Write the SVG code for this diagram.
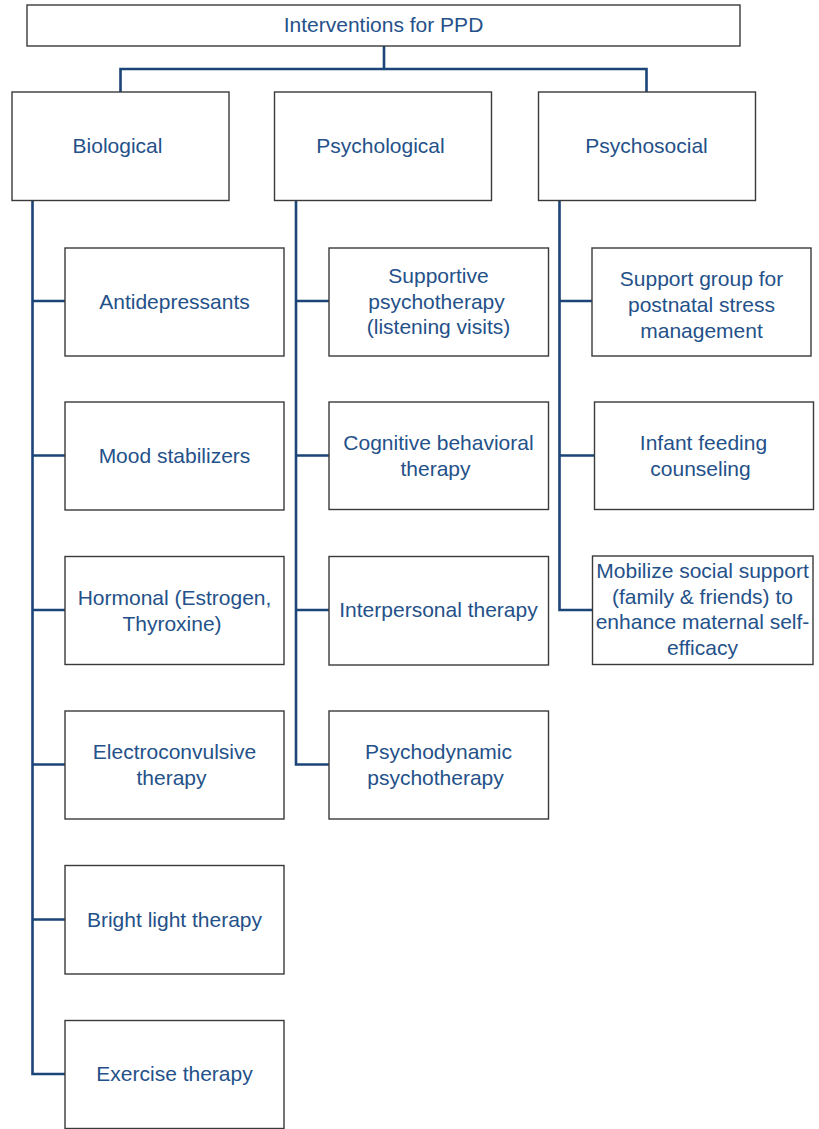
<svg xmlns="http://www.w3.org/2000/svg" width="819" height="1129" viewBox="0 0 819 1129">
  <style>
    .box { fill: #ffffff; stroke: #3a3a3a; stroke-width: 1.4; }
    .lbl { font-family: "Liberation Sans", Arial, sans-serif; font-size: 21px; fill: #245189; text-anchor: middle; }
    .link { fill: none; stroke: #1b4478; stroke-width: 2.6; stroke-linejoin: miter; }
  </style>
  <rect width="819" height="1129" fill="#ffffff"/>

  <!-- connectors -->
  <g id="connectors">
    <path class="link" d="M384 46 V69 M120.5 92 V69 H646.5 V92"/>
    <!-- Biological spine -->
    <path class="link" d="M32.5 200.5 V1074 H65 M32.5 301 H65 M32.5 455.5 H65 M32.5 610 H65 M32.5 764.5 H65 M32.5 919.5 H65"/>
    <!-- Psychological spine -->
    <path class="link" d="M296 200.5 V764.5 H329 M296 301 H329 M296 455.5 H329 M296 610 H329"/>
    <!-- Psychosocial spine -->
    <path class="link" d="M559.5 200.5 V610 H592.5 M559.5 301 H592 M559.5 455.5 H594.5"/>
  </g>

  <!-- root -->
  <g id="root">
    <rect class="box" x="27" y="5" width="713" height="41"/>
    <text class="lbl" x="383.5" y="32">Interventions for PPD</text>
  </g>

  <!-- categories -->
  <g id="biological">
    <rect class="box" x="12" y="92" width="217" height="108.5"/>
    <text class="lbl" x="117.5" y="153">Biological</text>
  </g>
  <g id="psychological">
    <rect class="box" x="274.5" y="92" width="217" height="108.5"/>
    <text class="lbl" x="380.5" y="153">Psychological</text>
  </g>
  <g id="psychosocial">
    <rect class="box" x="538.5" y="92" width="217" height="108.5"/>
    <text class="lbl" x="646.5" y="153">Psychosocial</text>
  </g>

  <!-- biological interventions -->
  <g id="antidepressants">
    <rect class="box" x="65" y="248" width="219" height="108"/>
    <text class="lbl" x="174.5" y="309">Antidepressants</text>
  </g>
  <g id="mood-stabilizers">
    <rect class="box" x="65" y="402" width="219" height="108"/>
    <text class="lbl" x="174.5" y="463">Mood stabilizers</text>
  </g>
  <g id="hormonal">
    <rect class="box" x="65" y="556.5" width="219" height="108"/>
    <text class="lbl" x="174.5" y="605">Hormonal (Estrogen,</text>
    <text class="lbl" x="172" y="630.5">Thyroxine)</text>
  </g>
  <g id="ect">
    <rect class="box" x="65" y="711" width="219" height="108"/>
    <text class="lbl" x="174.5" y="759">Electroconvulsive</text>
    <text class="lbl" x="171.5" y="784.5">therapy</text>
  </g>
  <g id="bright-light">
    <rect class="box" x="65" y="865.5" width="219" height="108.5"/>
    <text class="lbl" x="174.5" y="927">Bright light therapy</text>
  </g>
  <g id="exercise">
    <rect class="box" x="65" y="1020.5" width="219" height="108"/>
    <text class="lbl" x="174.5" y="1081">Exercise therapy</text>
  </g>

  <!-- psychological interventions -->
  <g id="supportive">
    <rect class="box" x="329" y="248" width="219.5" height="108"/>
    <text class="lbl" x="438.5" y="283">Supportive</text>
    <text class="lbl" x="436.5" y="308.5">psychotherapy</text>
    <text class="lbl" x="438.5" y="334">(listening visits)</text>
  </g>
  <g id="cbt">
    <rect class="box" x="329" y="402" width="219.5" height="107.5"/>
    <text class="lbl" x="438.5" y="450">Cognitive behavioral</text>
    <text class="lbl" x="435.5" y="475.5">therapy</text>
  </g>
  <g id="interpersonal">
    <rect class="box" x="329" y="556.5" width="219.5" height="108.5"/>
    <text class="lbl" x="438.5" y="616.5">Interpersonal therapy</text>
  </g>
  <g id="psychodynamic">
    <rect class="box" x="329" y="711" width="219.5" height="108"/>
    <text class="lbl" x="438.5" y="759">Psychodynamic</text>
    <text class="lbl" x="435.5" y="784.5">psychotherapy</text>
  </g>

  <!-- psychosocial interventions -->
  <g id="support-group">
    <rect class="box" x="592" y="248" width="219" height="108"/>
    <text class="lbl" x="701.5" y="285.5">Support group for</text>
    <text class="lbl" x="701.5" y="311.5">postnatal stress</text>
    <text class="lbl" x="701.5" y="337.5">management</text>
  </g>
  <g id="infant-feeding">
    <rect class="box" x="594.5" y="402" width="219" height="107.5"/>
    <text class="lbl" x="703.5" y="450">Infant feeding</text>
    <text class="lbl" x="700.5" y="475.5">counseling</text>
  </g>
  <g id="social-support">
    <rect class="box" x="592.5" y="556" width="220.5" height="108.5"/>
    <text class="lbl" x="702.5" y="578">Mobilize social support</text>
    <text class="lbl" x="702.5" y="603.5">(family &amp; friends) to</text>
    <text class="lbl" x="702.5" y="629">enhance maternal self-</text>
    <text class="lbl" x="702.5" y="654.5">efficacy</text>
  </g>
</svg>
